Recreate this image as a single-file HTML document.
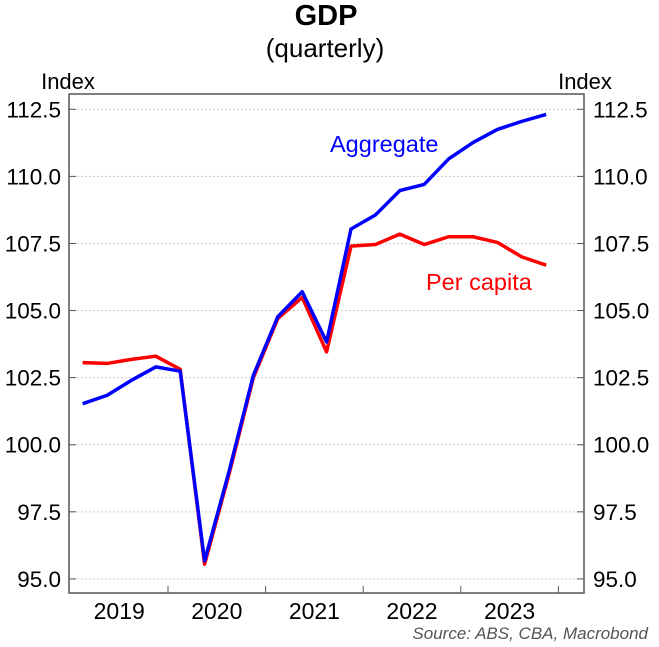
<!DOCTYPE html>
<html><head><meta charset="utf-8"><style>
body{margin:0;background:#fff;font-family:"Liberation Sans",Arial,sans-serif}
svg{display:block}
</style></head><body>
<svg id="chart" width="659" height="647" xmlns="http://www.w3.org/2000/svg">
<text x="326" y="25" text-anchor="middle" font-size="29" font-weight="bold">GDP</text>
<text x="325" y="57" text-anchor="middle" font-size="26">(quarterly)</text>
<text x="68" y="89" text-anchor="middle" font-size="22">Index</text>
<text x="585" y="89" text-anchor="middle" font-size="22">Index</text>
<g id="grid"></g>
<g id="series"></g>
<rect x="69" y="94" width="515" height="499" fill="none" stroke="#555" stroke-width="1.5"/>
<text x="330" y="152" fill="#0000ff" font-size="23.5">Aggregate</text>
<text x="426" y="290" fill="#ff0000" font-size="23.5">Per capita</text>
<text x="648" y="639" text-anchor="end" font-size="17" font-style="italic" fill="#555">Source: ABS, CBA, Macrobond</text>
</svg>
<script>
const yTicks=[95,97.5,100,102.5,105,107.5,110,112.5];
const years=["2019","2020","2021","2022","2023"];
const aggregate=[101.53,101.84,102.40,102.90,102.74,95.67,99.0,102.59,104.77,105.70,103.83,108.04,108.56,109.47,109.70,110.65,111.26,111.75,112.05,112.31];
const perCapita=[103.06,103.03,103.18,103.30,102.81,95.55,98.9,102.5,104.7,105.49,103.46,107.40,107.46,107.85,107.46,107.75,107.75,107.54,107.0,106.69];
const NS="http://www.w3.org/2000/svg";
const L=69,R=584,T=94,B=593,yearW=97.6,x0=70.4;
const y=v=>109.3+(112.5-v)*(578.9-109.3)/17.5;
const x=i=>x0+(i+0.5)*yearW/4;
const grid=document.getElementById('grid'),ser=document.getElementById('series');
function mk(tag,attrs,parent){const e=document.createElementNS(NS,tag);for(const k in attrs)e.setAttribute(k,attrs[k]);parent.appendChild(e);return e;}
yTicks.forEach(v=>{
 const g=mk('line',{x1:L,x2:R,y1:y(v),y2:y(v),stroke:'#ccc','stroke-dasharray':'2,2'},grid);
 
 
 [[L,L+7],[R-7,R]].forEach(p=>{const t=mk('line',{x1:p[0],x2:p[1],y1:y(v),y2:y(v),stroke:'#555'},grid);
 
 });
 const a=mk('text',{x:61,y:y(v)+8,'text-anchor':'end','font-size':22.5},grid);a.textContent=v.toFixed(1);
 
 
 const b=mk('text',{x:593,y:y(v)+8,'font-size':22.5},grid);b.textContent=v.toFixed(1);
 
 
});
years.forEach((yr,i)=>{
 const tx=x0+(i+1)*yearW;
 const t=mk('line',{x1:tx,x2:tx,y1:B-7,y2:B,stroke:'#555'},grid);
 
 
 const l=mk('text',{x:x0+(i+0.5)*yearW,y:619,'text-anchor':'middle','font-size':23},grid);l.textContent=yr;
 
 
});
function line(data,color,name){
 const p=mk('polyline',{points:data.map((v,i)=>x(i)+','+y(v)).join(' '),fill:'none',stroke:color,'stroke-width':3.5,'stroke-linejoin':'round'},ser);
 
 
}
line(perCapita,'#ff0000','per-capita-line');
line(aggregate,'#0000ff','aggregate-line');
</script>
</body></html>
